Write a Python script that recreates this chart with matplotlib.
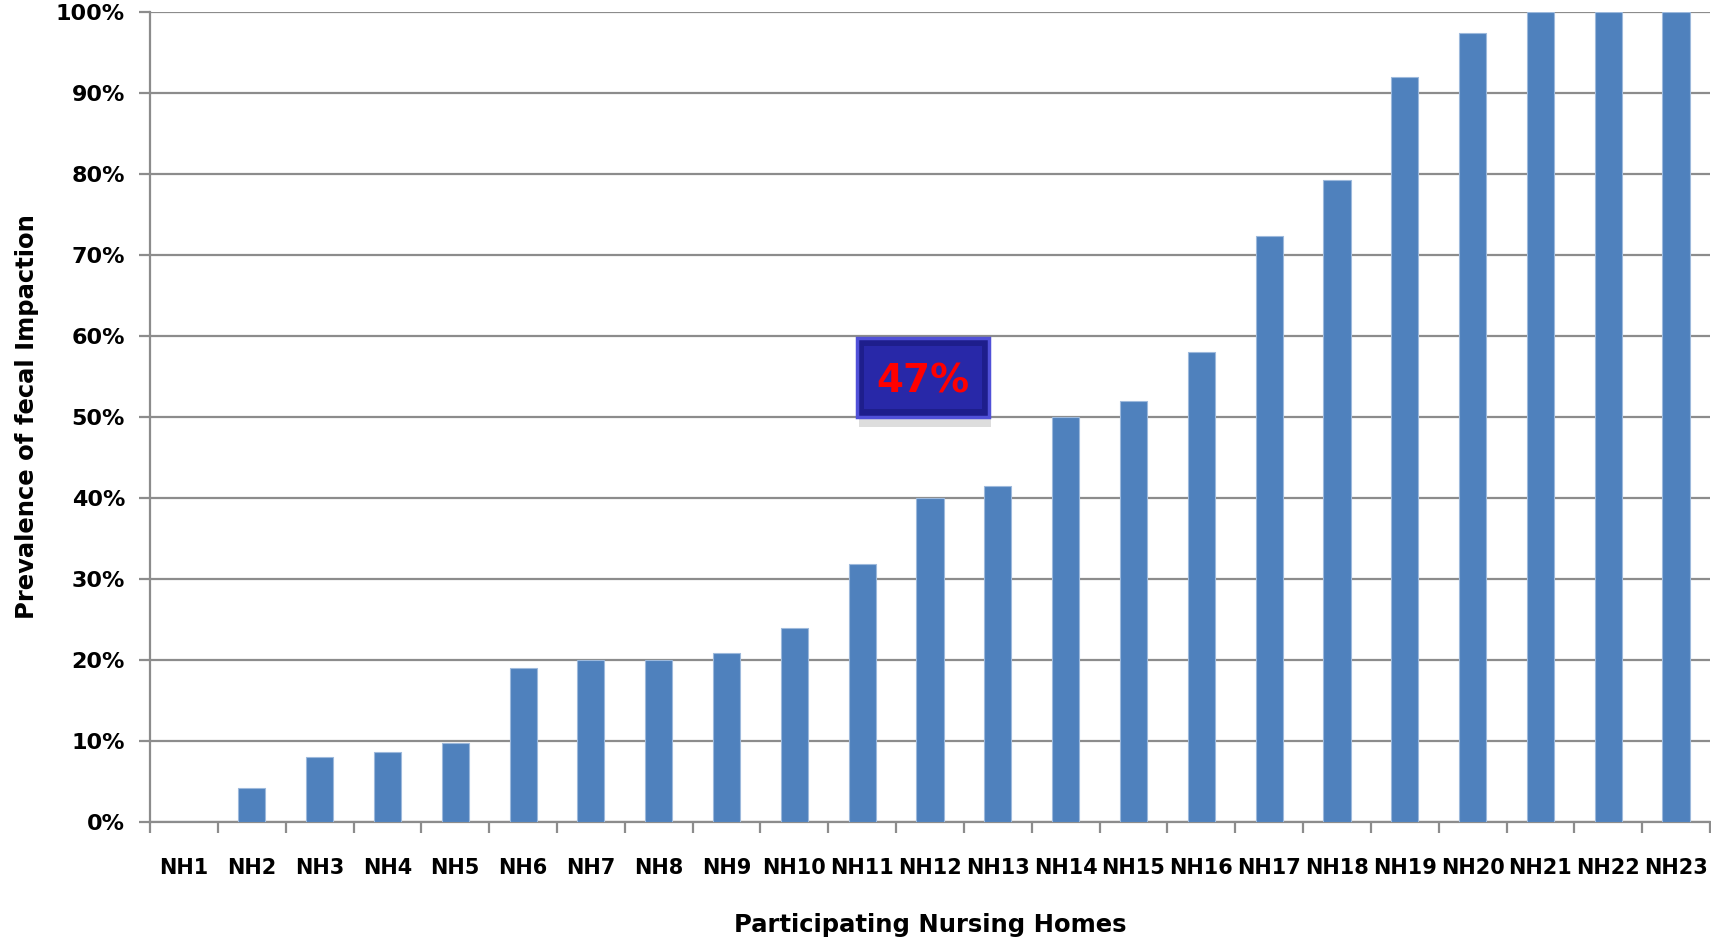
import matplotlib.pyplot as plt
from matplotlib.patches import Rectangle
from matplotlib.ticker import FuncFormatter, MultipleLocator
import numpy as np

# prevalence of fecal impaction per nursing home (%)
homes = ['NH' + str(i) for i in range(1, 24)]
prevalence = [0, 4.2, 8.0, 8.6, 9.8, 19.0, 20.0, 20.0, 20.8, 24.0, 31.8, 40.0,
              41.5, 50.0, 52.0, 58.0, 72.4, 79.2, 92.0, 97.4, 100, 100, 100]
overall_label = '47%'

plt.rcParams['font.family'] = ['DejaVu Sans']
plt.rcParams['font.weight'] = 'bold'

fig = plt.figure(figsize=(17.11, 9.38), dpi=100)
ax = fig.add_axes([0.0877, 0.1237, 0.9117, 0.8635])

x = np.arange(len(homes))
ax.bar(x, prevalence, width=0.4, color='#4F81BD', edgecolor='#9DB9DC',
       linewidth=0.8, zorder=3)

ax.set_xlim(-0.5, len(homes) - 0.5)
ax.set_ylim(0, 100)

# horizontal gridlines every 10%
ax.yaxis.set_major_locator(MultipleLocator(10))
ax.yaxis.set_major_formatter(FuncFormatter(lambda v, p: '%d%%' % v))
ax.grid(axis='y', color='#8C8C8C', linewidth=1.6, zorder=0)

# category labels at centres, tick marks between categories
ax.set_xticks(x)
ax.set_xticklabels(homes)
ax.set_xticks(np.arange(-0.5, len(homes) + 0.5, 1), minor=True)
ax.tick_params(axis='x', which='major', length=0, pad=26, labelsize=15)
ax.tick_params(axis='x', which='minor', length=8, width=1.6, color='#8C8C8C',
               direction='out')
ax.tick_params(axis='y', length=8, width=1.6, color='#8C8C8C', pad=10,
               labelsize=16)

for side in ['top', 'right']:
    ax.spines[side].set_visible(False)
for side in ['left', 'bottom']:
    ax.spines[side].set_color('#8C8C8C')
    ax.spines[side].set_linewidth(1.6)

ax.set_xlabel('Participating Nursing Homes', fontsize=17.5, fontweight='bold',
              labelpad=25)
ax.set_ylabel('Prevalence of fecal Impaction', fontsize=17.5, fontweight='bold',
              labelpad=12)

# overall prevalence callout box
bx0, bx1, by0, by1 = 9.93, 11.87, 50, 59.8
ax.add_patch(Rectangle((bx0 + 0.03, by0 - 1.2), bx1 - bx0, by1 - by0,
                       facecolor='#A0A0A0', alpha=0.35, edgecolor='none',
                       zorder=5))
ax.add_patch(Rectangle((bx0, by0), bx1 - bx0, by1 - by0, facecolor='#1E1E8C',
                       edgecolor='#5050D8', linewidth=2.5, zorder=6))
ax.add_patch(Rectangle((bx0 + 0.1, by0 + 1.0), bx1 - bx0 - 0.2, by1 - by0 - 2.0,
                       facecolor='#2828A8', edgecolor='none', zorder=6))
ax.text((bx0 + bx1) / 2, (by0 + by1) / 2 - 0.5, overall_label, color='#FF0000',
        fontsize=28, fontweight='bold', ha='center', va='center', zorder=7)

plt.savefig('out.png', dpi=100)
